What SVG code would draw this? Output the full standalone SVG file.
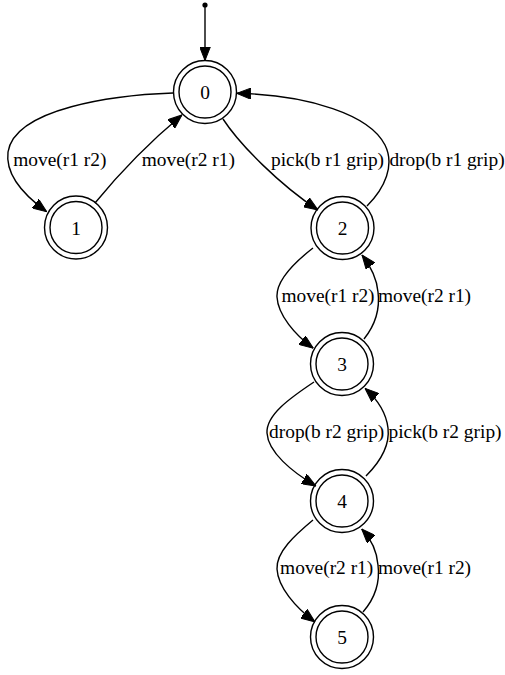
<svg xmlns="http://www.w3.org/2000/svg" width="505" height="675" viewBox="0 0 505 675">
<style>
.n circle{fill:none;stroke:#000;stroke-width:1.4}
text{font-family:"Liberation Serif","Times New Roman",serif;font-size:19.4px;fill:#000;text-anchor:middle}
.e path{fill:none;stroke:#000;stroke-width:1.4}
</style>
<defs>
<marker id="ah" markerWidth="14" markerHeight="11" refX="14" refY="5.5" orient="auto" markerUnits="userSpaceOnUse">
<path d="M0,0 L14,5.5 L0,11 z" fill="#000" stroke="#000" stroke-width="1"/>
</marker>
</defs>
<rect width="505" height="675" fill="#fff"/>
<g id="start"><circle cx="205" cy="5" r="2.6" fill="#000"/></g>
<g id="node0" class="n"><circle cx="205" cy="92" r="26"/><circle cx="205" cy="92" r="31.5"/><text x="205" y="99">0</text></g>
<g id="node1" class="n"><circle cx="76" cy="227.5" r="26"/><circle cx="76" cy="227.5" r="31.5"/><text x="76" y="234.5">1</text></g>
<g id="node2" class="n"><circle cx="342.5" cy="228" r="26"/><circle cx="342.5" cy="228" r="31.5"/><text x="342.5" y="235">2</text></g>
<g id="node3" class="n"><circle cx="342" cy="364" r="26"/><circle cx="342" cy="364" r="31.5"/><text x="342" y="371">3</text></g>
<g id="node4" class="n"><circle cx="342" cy="501" r="26"/><circle cx="342" cy="501" r="31.5"/><text x="342" y="508">4</text></g>
<g id="node5" class="n"><circle cx="342" cy="637" r="26"/><circle cx="342" cy="637" r="31.5"/><text x="342" y="644">5</text></g>
<g id="edges" class="e">
<path d="M205,5 L205,60.5" marker-end="url(#ah)"/>
<path d="M173,93 C115,95 15,108 8,152 C5,175 25,196 46.7,211.7" marker-end="url(#ah)"/>
<path d="M95,203 C122,170 152,140 182,115" marker-end="url(#ah)"/>
<path d="M223,119 C240,145 280,185 318,210" marker-end="url(#ah)"/>
<path d="M367,206 C385,188 395,165 385,145 C370,115 310,95 236.7,93.3" marker-end="url(#ah)"/>
<path d="M313,248 C295,262 276,280 277,297 C278,315 295,335 313.3,348.3" marker-end="url(#ah)"/>
<path d="M364,339 C376,324 380,308 378,292 C377,280 372,268 362,255" marker-end="url(#ah)"/>
<path d="M314,382 C290,398 266,415 267,433 C268,452 292,472 316,486" marker-end="url(#ah)"/>
<path d="M366,476 C380,462 390,445 388,428 C386,412 378,400 365,388.3" marker-end="url(#ah)"/>
<path d="M313,520 C295,535 276,552 277,569 C278,587 295,607 315,622" marker-end="url(#ah)"/>
<path d="M363,612 C376,597 380,581 378,565 C377,552 372,540 361.7,529" marker-end="url(#ah)"/>
<text x="59.8" y="166">move(r1 r2)</text>
<text x="188.3" y="166">move(r2 r1)</text>
<text x="327.5" y="166">pick(b r1 grip)</text>
<text x="447" y="166">drop(b r1 grip)</text>
<text x="328" y="302">move(r1 r2)</text>
<text x="424.5" y="302">move(r2 r1)</text>
<text x="326.7" y="438">drop(b r2 grip)</text>
<text x="445" y="438">pick(b r2 grip)</text>
<text x="326.7" y="574">move(r2 r1)</text>
<text x="424.5" y="574">move(r1 r2)</text>
</g>
</svg>
